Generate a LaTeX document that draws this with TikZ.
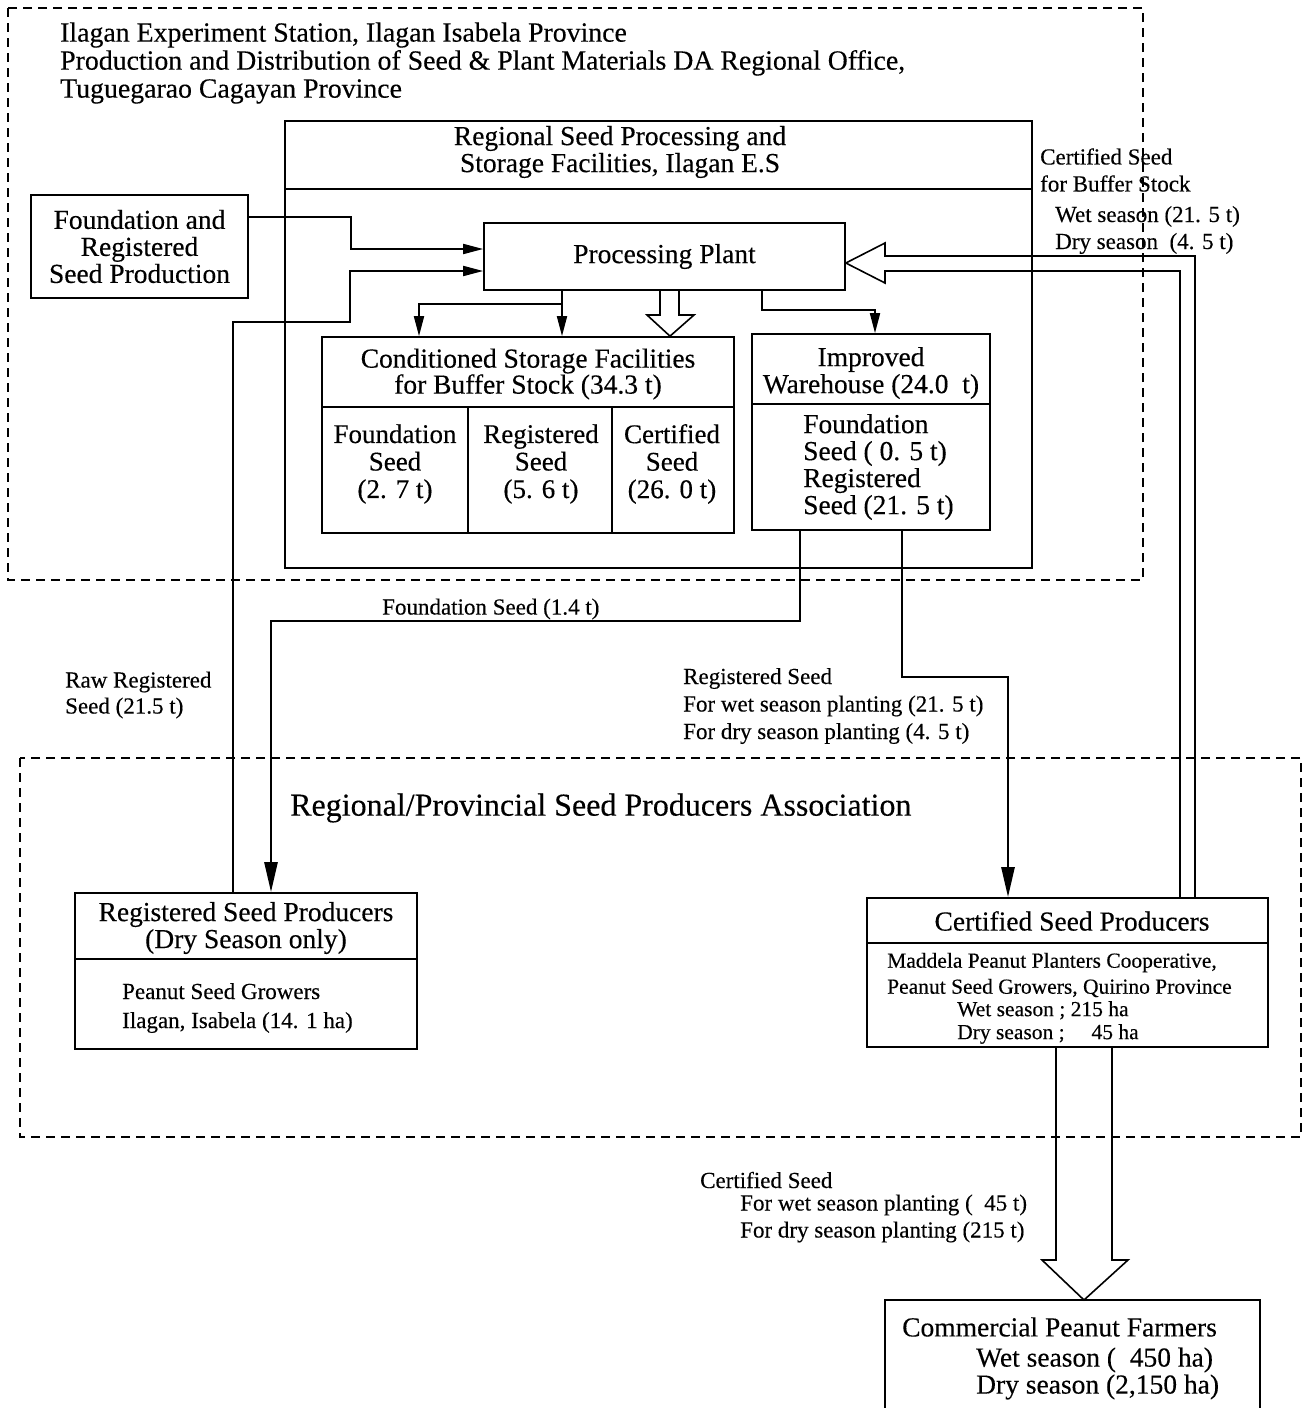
\documentclass[tikz,border=0pt]{standalone}
\usepackage{fontspec}
\setmainfont{Liberation Serif}[FakeBold=0.3]
\usetikzlibrary{arrows.meta}

\begin{document}
\begin{tikzpicture}[x=1pt,y=-1pt,
  box/.style={draw, line width=1.7pt, inner sep=0pt},
  main/.style={inner sep=0pt, font=\fontsize{27.5}{27}\selectfont, align=center},
  lbl/.style={inner sep=0pt, font=\fontsize{23}{27}\selectfont, align=left, anchor=west},
  zone/.style={draw, line width=1.6pt, dash pattern=on 9pt off 6pt},
  link/.style={line width=1.8pt},
  arr/.style={link, -{Triangle[length=20pt,width=10pt]}},
  bigarr/.style={line width=2.6pt, -{Triangle[length=30pt,width=13pt]}},
  hollow/.style={line width=1.6pt, line join=miter},
  divider/.style={line width=1.7pt},
]
\useasboundingbox (0,0) rectangle (1309,1408);

% ---- organisational zones (dashed) ----
\draw[zone] (8,8) rectangle (1143,580);
\draw[zone] (20,758) rectangle (1301,1137);

\node[inner sep=0pt, anchor=west, align=left, font=\fontsize{27.8}{28}\selectfont] (hdr) at (60,63)
  {Ilagan Experiment Station, Ilagan Isabela Province\\
   Production and Distribution of Seed \& Plant Materials DA Regional Office,\\
   Tuguegarao Cagayan Province};

\node[inner sep=0pt, anchor=west, font=\fontsize{32}{36}\selectfont] (assoc) at (290,808)
  {Regional/Provincial Seed Producers Association};

% ---- regional facility frame ----
\node[box, minimum width=747pt, minimum height=447pt] (regbox) at (658.5,344.5) {};
\draw[divider] (285,189) -- (1032,189);
\node[main] (regtitle) at (620,152) {Regional Seed Processing and\\Storage Facilities, Ilagan E.S};

% ---- boxes ----
\node[box, main, minimum width=217pt, minimum height=103pt] (found) at (139.5,246.5)
  {Foundation and\\Registered\\Seed Production};

\node[box, main, minimum width=361pt, minimum height=67pt, fill=white] (proc) at (664.5,256.5)
  {Processing Plant};

% conditioned storage
\node[box, minimum width=412pt, minimum height=196pt] (cond) at (528,435) {};
\draw[divider] (322,407) -- (734,407);
\draw[divider] (468,407) -- (468,533);
\draw[divider] (612,407) -- (612,533);
\node[main, font=\fontsize{27.5}{26}\selectfont] (condtitle) at (528,374)
  {Conditioned Storage Facilities\\for Buffer Stock (34.3 t)};
\node[main, font=\fontsize{27}{27.5}\selectfont] (condf) at (395,464) {Foundation\\Seed\\(2. 7 t)};
\node[main, font=\fontsize{27}{27.5}\selectfont] (condr) at (541,464) {Registered\\Seed\\(5. 6 t)};
\node[main, font=\fontsize{27}{27.5}\selectfont] (condc) at (672,464) {Certified\\Seed\\(26. 0 t)};

% improved warehouse
\node[box, minimum width=238pt, minimum height=196pt] (impr) at (871,432) {};
\draw[divider] (752,404) -- (990,404);
\node[main] (imprtitle) at (871,373) {Improved\\Warehouse (24.0\ \ t)};
\node[main, align=left, anchor=west] (imprtext) at (803,467)
  {Foundation\\Seed (\ 0. 5 t)\\Registered\\Seed (21. 5 t)};

% registered seed producers
\node[box, minimum width=342pt, minimum height=156pt] (regprod) at (246,971) {};
\draw[divider] (75,959) -- (417,959);
\node[main] (regprodtitle) at (246,928) {Registered Seed Producers\\(Dry Season only)};
\node[inner sep=0pt, anchor=west, align=left, font=\fontsize{23}{29}\selectfont] (regprodtext) at (122,1008)
  {Peanut Seed Growers\\Ilagan, Isabela (14. 1 ha)};

% certified seed producers
\node[box, minimum width=401pt, minimum height=149pt] (certprod) at (1067.5,972.5) {};
\draw[divider] (867,943) -- (1268,943);
\node[main] (certtitle) at (1072,921) {Certified Seed Producers};
\node[inner sep=0pt, anchor=west, align=left, font=\fontsize{21.5}{26}\selectfont] (certtext) at (887,975)
  {Maddela Peanut Planters Cooperative,\\Peanut Seed Growers, Quirino Province};
\node[inner sep=0pt, anchor=west, align=left, font=\fontsize{21.5}{23}\selectfont] (certarea) at (957,1022.5)
  {Wet season ; 215 ha\\Dry season ;\quad\ 45 ha};

% commercial farmers (box runs off the lower edge)
\draw[line width=1.7pt] (885,1412) -- (885,1300) -- (1260,1300) -- (1260,1412);
\coordinate (farmtop) at (1084,1300);
\node[main, anchor=west] (farm) at (902,1327) {Commercial Peanut Farmers};
\node[main, align=left, anchor=west] (farmarea) at (976,1373.5) {Wet season (\ \ 450 ha)\\Dry season (2,150 ha)};

% ---- connectors ----
\coordinate (a1) at (351,217);
\coordinate (a2) at (351,249);
\draw[arr] (found.east |- a1) -- (a1) -- (a2) -- (proc.west |- a2);

\coordinate (b1) at (233,322);
\coordinate (b2) at (350,322);
\coordinate (b3) at (350,271);
\draw[arr] (regprod.north -| b1) -- (b1) -- (b2) -- (b3) -- (proc.west |- b3);

\coordinate (c1) at (562,304);
\coordinate (c2) at (419,304);
\draw[arr] (proc.south -| c1) -- (c1) -- (c2) -- (cond.north -| c2);
\draw[arr] (c1) -- (cond.north -| c1);

\coordinate (d1) at (762,310);
\coordinate (d2) at (875,310);
\draw[arr] (proc.south -| d1) -- (d1) -- (d2) -- (impr.north -| d2);

% hollow arrow into conditioned storage
\draw[hollow] (proc.south -| 660,0) -- (660,315) -- (647,315) -- (cond.north -| 670,0)
  -- (694,315) -- (679,315) -- (proc.south -| 679,0);

\coordinate (e1) at (800,621);
\coordinate (e2) at (271,621);
\draw[bigarr] (impr.south -| e1) -- (e1) -- (e2) -- (regprod.north -| e2);

\coordinate (g1) at (902,677);
\coordinate (g2) at (1008,677);
\draw[bigarr] (impr.south -| g1) -- (g1) -- (g2) -- (certprod.north -| g2);

% certified seed returned as buffer stock (hollow arrow)
\draw[hollow] (certprod.north -| 1180,0) -- (1180,271) -- (885,271) -- (885,283)
  -- (proc.east |- 0,263) -- (885,243) -- (885,256) -- (1195,256) -- (certprod.north -| 1195,0);

% certified seed to commercial farmers (hollow arrow)
\draw[hollow] (certprod.south -| 1056,0) -- (1056,1260) -- (1042,1260) -- (farmtop)
  -- (1128,1260) -- (1112,1260) -- (certprod.south -| 1112,0);

% ---- flow labels ----
\node[lbl] (lbuf) at (1040,170) {Certified Seed\\for Buffer Stock};
\node[lbl] (lbufq) at (1055,230) {Wet season (21. 5 t)\\Dry season\ \ (4. 5 t)};
\node[lbl] (lfound) at (382,609) {Foundation Seed (1.4 t)};
\node[lbl, font=\fontsize{23}{26}\selectfont] (lraw) at (65,695) {Raw Registered\\Seed (21.5 t)};
\node[lbl, font=\fontsize{23}{27.5}\selectfont] (lreg) at (683,706)
  {Registered Seed\\For wet season planting (21. 5 t)\\For dry season planting (4. 5 t)};
\node[lbl] (lcert) at (700,1180) {Certified Seed};
\node[lbl] (lcertq) at (740,1218.5) {For wet season planting (\ \ 45 t)\\For dry season planting (215 t)};

\end{tikzpicture}
\end{document}
